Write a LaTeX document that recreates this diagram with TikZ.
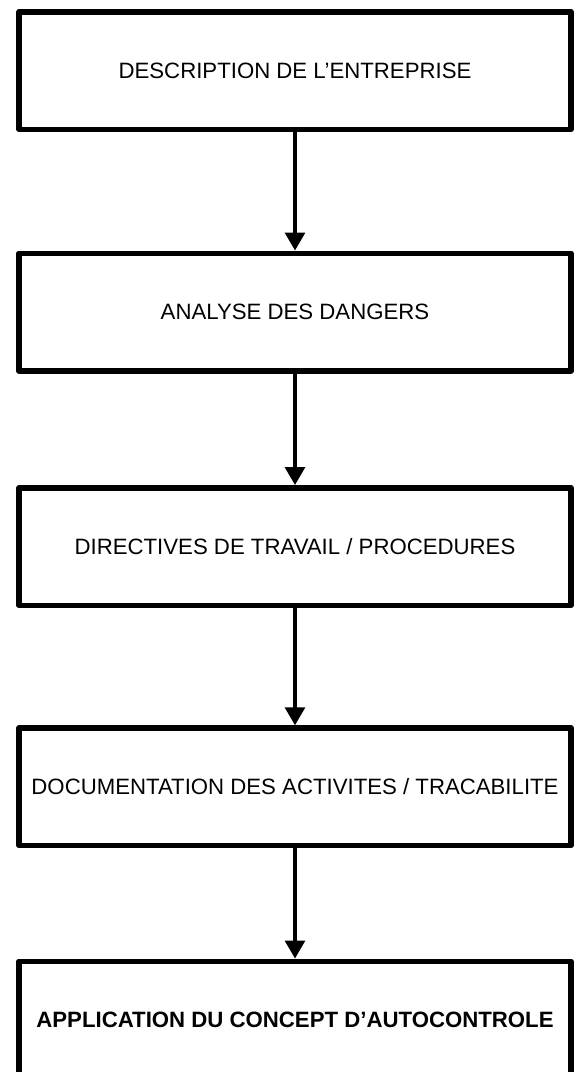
\documentclass[tikz,border=0pt]{standalone}
\usepackage{fontspec}
\setmainfont{Liberation Sans}
\usetikzlibrary{arrows.meta}

\begin{document}
\begin{tikzpicture}[x=1pt, y=-1pt,
etape/.style={rectangle, draw=black, fill=white, line width=5.5pt, line join=round, minimum width=552pt, minimum height=117.5pt, inner sep=0pt, font=\fontsize{22.2}{26}\selectfont},
fleche/.style={-{Triangle[width=20pt,length=18pt]}, line width=3.3pt},
]
\useasboundingbox (0,0) rectangle (577,1072);
\node[etape] (E1) at (295,70.5) {DESCRIPTION DE L’ENTREPRISE};
\node[etape] (E2) at (295,312) {ANALYSE DES DANGERS};
\node[etape] (E3) at (295,546.5) {DIRECTIVES DE TRAVAIL / PROCEDURES};
\node[etape] (E4) at (295,786.75) {DOCUMENTATION DES ACTIVITES / TRACABILITE};
\node[etape] (E5) at (295,1020) {\bfseries APPLICATION DU CONCEPT D’AUTOCONTROLE};
\draw[fleche] (E1.south) -- (E2.north);
\draw[fleche] (E2.south) -- (E3.north);
\draw[fleche] (E3.south) -- (E4.north);
\draw[fleche] (E4.south) -- (E5.north);
\end{tikzpicture}
\end{document}
